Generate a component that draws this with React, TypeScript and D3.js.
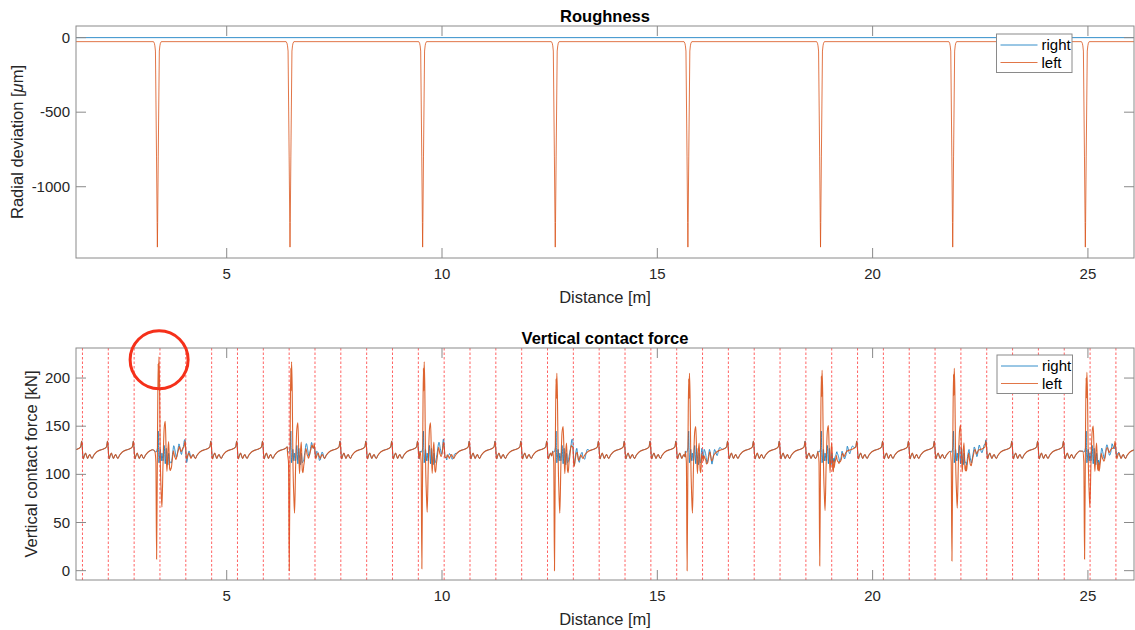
import React from 'react';
import * as d3 from 'd3';

// ---------- data ----------
const xTicks = [5, 10, 15, 20, 25];
const roughTicks = [0, -500, -1000];
const forceTicks = [0, 50, 100, 150, 200];
const xDomain = [1.5, 26.07];
const roughDomain = [-1478, 78];
const forceDomain = [-9.7, 231.2];

// wheel-flat impact locations [m]
const impactCenters = [3.39, 6.47, 9.55, 12.63, 15.71, 18.79, 21.86, 24.94];

// roughness
const rightRoughnessLevel = 0;
const leftRoughnessLevel = -27;
const dipDx = [-0.09, -0.07, -0.058, -0.045, -0.02, -0.006, 0, 0.006, 0.02, 0.045, 0.058, 0.07, 0.09];
const dipDepth = [-27, -38, -55, -90, -800, -1240, -1405, -1240, -800, -90, -55, -38, -27];

// sleeper positions [m] (red dotted lines)
const sleeperPositions = [
  1.65, 2.25, 2.85, 3.45, 4.05, 4.65, 5.25, 5.85, 6.45, 7.05, 7.65, 8.25, 8.85, 9.45,
  10.05, 10.65, 11.25, 11.85, 12.45, 13.05, 13.65, 14.25, 14.85, 15.45, 16.05, 16.65,
  17.25, 17.85, 18.45, 19.05, 19.65, 20.25, 20.85, 21.45, 22.05, 22.65, 23.25, 23.85,
  24.45, 25.05, 25.65,
];
const bayLength = 0.6;
// force shape over one sleeper bay (fraction of bay, kN)
const bayU = [0.03, 0.08, 0.12, 0.16, 0.2, 0.25, 0.29, 0.33, 0.37, 0.43, 0.5, 0.6, 0.72, 0.85, 0.93, 0.97];
const bayForce = [116, 120, 122, 119, 116.5, 119.5, 120.5, 118, 116.5, 119.5, 122, 124.2, 125.5, 126.8, 128.5, 134.5];

// impact peaks of the left wheel [kN]
const impactMaxLeft = [222, 217, 217, 205, 205, 208, 210, 206];
const impactMinLeft = [12, 0, 2, 0, 0, 5, 10, 12];

// impact response (offset from impact [m], kN)
const coreDx = [-0.06, -0.035, -0.018, 0.004, 0.018, 0.026, 0.036, 0.05, 0.066, 0.09, 0.106, 0.13, 0.158, 0.183, 0.205, 0.222, 0.245, 0.262, 0.285, 0.3];
const leftCore = [124, 113, 12, 145, 215, 190, 222, 195, 120, 80, 66, 110, 148, 155, 120, 103, 125, 134, 106, 104];
const rightCore = [124, 123, 124, 128, 145, 128, 112, 118, 126, 114, 122, 114, 130, 111, 127, 118, 110, 122, 112, 113];
const coreRef = { max: 222, min: 12, mid: 125 };
// after-ringing (offset [m], deviation kN)
const leftRingDx = [0.32, 0.34, 0.37, 0.4, 0.43, 0.47, 0.51, 0.55, 0.6];
const leftRingDev = [-14, -8, 2, -5, -9, -3, 3, -3, 0];
const rightRingDx = [0.32, 0.38, 0.44, 0.5, 0.56, 0.62, 0.68, 0.74, 0.8];
const rightRingDev = [-8, 7, -7, 6, -6, 5, -4, 3, 0];

// annotation circle (m, kN)
const markX = 3.43;
const markY = 219;

// ---------- helpers ----------
function interp(xs: number[], ys: number[], x: number) {
  const i = d3.bisectRight(xs, x);
  if (i <= 0) return ys[0];
  if (i >= xs.length) return ys[ys.length - 1];
  const t = (x - xs[i - 1]) / (xs[i] - xs[i - 1]);
  return ys[i - 1] + t * (ys[i] - ys[i - 1]);
}

const basePts: [number, number][] = [];
[sleeperPositions[0] - bayLength, ...sleeperPositions].forEach((s) =>
  bayU.forEach((u, j) => basePts.push([s + u * bayLength, bayForce[j]]))
);
const baseX = basePts.map((p) => p[0]);
const baseY = basePts.map((p) => p[1]);
const baseAt = (x: number) => interp(baseX, baseY, x);

function buildForce(core: number[], ringDx: number[], ringDev: number[], scale: boolean) {
  const c0 = coreDx[0];
  const c1 = coreDx[coreDx.length - 1];
  const r1 = ringDx[ringDx.length - 1];
  const inCore = (x: number) => impactCenters.some((c) => x > c + c0 - 1e-9 && x < c + c1 + 1e-9);
  const ringAt = (x: number) => {
    let d = 0;
    impactCenters.forEach((c) => {
      const dx = x - c;
      if (dx > c1 && dx < r1) d += interp([c1, ...ringDx], [0, ...ringDev], dx);
    });
    return d;
  };
  const pts: [number, number][] = [];
  basePts.forEach(([bx, bv]) => {
    if (!inCore(bx)) pts.push([bx, bv + ringAt(bx)]);
  });
  impactCenters.forEach((c, i) => {
    const sMax = (impactMaxLeft[i] - coreRef.mid) / (coreRef.max - coreRef.mid);
    const sMin = (coreRef.mid - impactMinLeft[i]) / (coreRef.mid - coreRef.min);
    coreDx.forEach((dx, j) => {
      let v = core[j];
      if (scale) v = v > coreRef.mid ? coreRef.mid + (v - coreRef.mid) * sMax : coreRef.mid - (coreRef.mid - v) * sMin;
      pts.push([c + dx, v]);
    });
    ringDx.forEach((dx, j) => {
      const xx = c + dx;
      if (!inCore(xx)) pts.push([xx, baseAt(xx) + ringDev[j]]);
    });
  });
  pts.sort((a, b) => a[0] - b[0]);
  return pts;
}

const forceLeft = buildForce(leftCore, leftRingDx, leftRingDev, true);
const forceRight = buildForce(rightCore, rightRingDx, rightRingDev, false);

const roughLeft: [number, number][] = [[xDomain[0], leftRoughnessLevel]];
impactCenters.forEach((c) => dipDx.forEach((dx, j) => roughLeft.push([c + dx, dipDepth[j]])));
roughLeft.push([xDomain[1], leftRoughnessLevel]);
const roughRight: [number, number][] = [
  [xDomain[0], rightRoughnessLevel],
  [xDomain[1], rightRoughnessLevel],
];

// ---------- styles ----------
const BLUE = '#0072BD';
const ORANGE = '#D95319';
const AX = '#8a8a8a';
const TXT = '#262626';
const FONT = '"Liberation Sans", Arial, Helvetica, sans-serif';
const LW = 0.8;
const LW_TOP = 1.1;

const L = 76, R = 1134;
const top1 = 26, bot1 = 258;
const top2 = 348, bot2 = 580;
const TICK = 10;

function Axes({ y, yTicks, top, bottom, title, ylabel, ylabelX }: any) {
  const x = d3.scaleLinear().domain(xDomain).range([L, R]);
  return (
    <g>
      <text x={(L + R) / 2} y={top - 4} textAnchor="middle" fontWeight="bold" fontSize={16.5} fill="#000">
        {title}
      </text>
      {xTicks.map((t) => (
        <g key={'x' + t}>
          <line x1={x(t)} x2={x(t)} y1={bottom} y2={bottom - TICK} stroke={AX} />
          <line x1={x(t)} x2={x(t)} y1={top} y2={top + TICK} stroke={AX} />
          <text x={x(t)} y={bottom + 21} textAnchor="middle" fontSize={15} fill={TXT}>
            {t}
          </text>
        </g>
      ))}
      {yTicks.map((t: number) => (
        <g key={'y' + t}>
          <line x1={L} x2={L + TICK} y1={y(t)} y2={y(t)} stroke={AX} />
          <line x1={R} x2={R - TICK} y1={y(t)} y2={y(t)} stroke={AX} />
          <text x={70} y={y(t) + 5} textAnchor="end" fontSize={15} fill={TXT}>
            {t}
          </text>
        </g>
      ))}
      <text x={(L + R) / 2} y={bottom + 45} textAnchor="middle" fontSize={16.5} fill={TXT}>
        Distance [m]
      </text>
      <text
        transform={`translate(${ylabelX},${(top + bottom) / 2}) rotate(-90)`}
        textAnchor="middle"
        fontSize={16.5}
        fill={TXT}
      >
        {ylabel}
      </text>
    </g>
  );
}

function Legend({ x0, y0 }: { x0: number; y0: number }) {
  return (
    <g>
      <rect x={x0} y={y0} width={75.5} height={38.5} fill="#fff" stroke={AX} strokeWidth={1} />
      <line x1={x0 + 4} x2={x0 + 41} y1={y0 + 11} y2={y0 + 11} stroke={BLUE} strokeWidth={LW} />
      <line x1={x0 + 4} x2={x0 + 41} y1={y0 + 28.5} y2={y0 + 28.5} stroke={ORANGE} strokeWidth={LW} />
      <text x={x0 + 45} y={y0 + 16} fontSize={15} fill="#000">
        right
      </text>
      <text x={x0 + 45} y={y0 + 33.5} fontSize={15} fill="#000">
        left
      </text>
    </g>
  );
}

export default function App() {
  const x = d3.scaleLinear().domain(xDomain).range([L, R]);
  const yR = d3.scaleLinear().domain(roughDomain).range([bot1, top1]);
  const yF = d3.scaleLinear().domain(forceDomain).range([bot2, top2]);
  const lineR = d3
    .line<[number, number]>()
    .x((d) => x(d[0]))
    .y((d) => yR(d[1]));
  const lineF = d3
    .line<[number, number]>()
    .x((d) => x(d[0]))
    .y((d) => yF(d[1]))
    .curve(d3.curveMonotoneX);

  return (
    <svg
      width={1135}
      height={630}
      style={{ position: 'absolute', left: 0, top: 0, background: '#fff' }}
      fontFamily={FONT}
    >
      <defs>
        <clipPath id="c1">
          <rect x={L} y={top1} width={R - L} height={bot1 - top1} />
        </clipPath>
        <clipPath id="c2">
          <rect x={L} y={top2} width={R - L} height={bot2 - top2} />
        </clipPath>
      </defs>
      <rect x={0} y={0} width={1135} height={630} fill="#fff" />

      {/* Roughness */}
      <g clipPath="url(#c1)">
        <path d={lineR(roughRight) || ''} fill="none" stroke={BLUE} strokeWidth={LW} />
        <path d={lineR(roughLeft) || ''} fill="none" stroke={ORANGE} strokeWidth={LW} />
      </g>
      <rect x={L} y={top1} width={R - L} height={bot1 - top1} fill="none" stroke={AX} />
      <Axes
        y={yR}
        yTicks={roughTicks}
        top={top1}
        bottom={bot1}
        title="Roughness"
        ylabelX={23}
        ylabel={
          <>
            Radial deviation [<tspan fontStyle="italic">μ</tspan>m]
          </>
        }
      />
      <Legend x0={996.5} y0={34} />

      {/* Vertical contact force */}
      <g clipPath="url(#c2)">
        <path d={lineF(forceRight) || ''} fill="none" stroke={BLUE} strokeWidth={LW} />
        <path d={lineF(forceLeft) || ''} fill="none" stroke={ORANGE} strokeWidth={LW_TOP} opacity={0.9} />
        {sleeperPositions.map((s) => (
          <line
            key={s}
            x1={x(s)}
            x2={x(s)}
            y1={top2}
            y2={bot2}
            stroke="#ff3030"
            strokeWidth={1}
            strokeDasharray="2.5 2"
            opacity={0.75}
          />
        ))}
      </g>
      <rect x={L} y={top2} width={R - L} height={bot2 - top2} fill="none" stroke={AX} />
      <Axes
        y={yF}
        yTicks={forceTicks}
        top={top2}
        bottom={bot2}
        title="Vertical contact force"
        ylabelX={37}
        ylabel="Vertical contact force [kN]"
      />
      <Legend x0={997} y0={355} />
      <circle cx={x(markX)} cy={yF(markY)} r={29} fill="none" stroke="#f5301a" strokeWidth={3} />
    </svg>
  );
}
